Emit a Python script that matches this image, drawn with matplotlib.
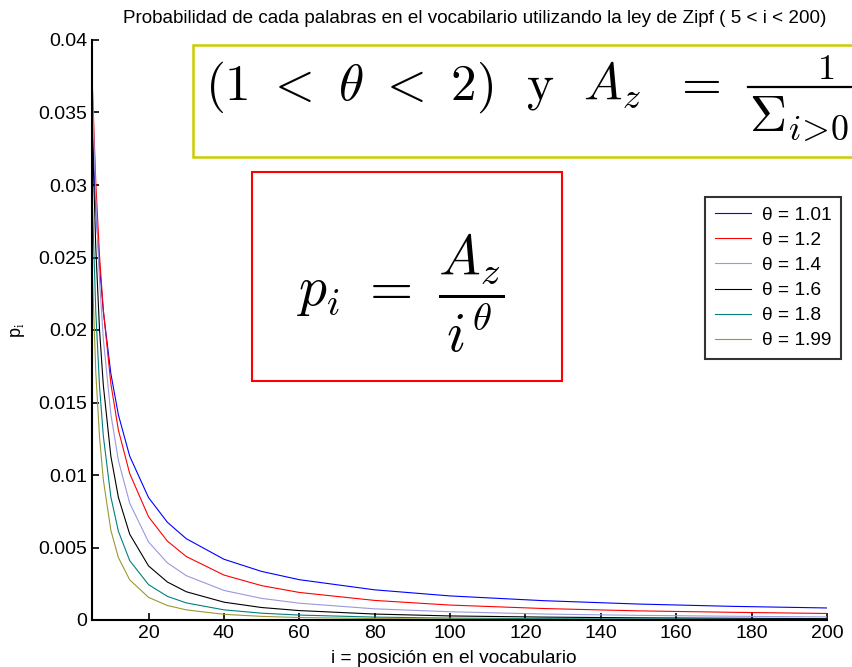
import matplotlib
matplotlib.use('Agg')
import matplotlib.pyplot as plt
from matplotlib.patches import Rectangle
from matplotlib.lines import Line2D

plt.rcParams['font.family'] = ['Liberation Sans', 'DejaVu Sans']
plt.rcParams['mathtext.fontset'] = 'cm'

i_pos = [4, 5, 6, 7, 8, 10, 12, 15, 20, 25, 30, 40, 50, 60, 80, 100, 125, 150, 175, 200]

p_101 = [0.0429, 0.0343, 0.0285, 0.0244, 0.0213, 0.0170, 0.01415, 0.0113, 0.00844, 0.00674,
         0.00561, 0.00419, 0.00335, 0.00278, 0.00208, 0.00166, 0.00133, 0.00110, 0.00094, 0.00083]
p_12 = [0.0491, 0.0376, 0.0302, 0.0251, 0.0214, 0.0163, 0.0131, 0.0101, 0.00712, 0.00544,
        0.00438, 0.00310, 0.00237, 0.00190, 0.00135, 0.00103, 0.00079, 0.00063, 0.00053, 0.00045]
p_14 = [0.0513, 0.0375, 0.0290, 0.0234, 0.0194, 0.0142, 0.0110, 0.00806, 0.00538, 0.00394,
        0.00306, 0.00204, 0.00149, 0.00116, 0.00077, 0.00057, 0.00041, 0.00032, 0.00026, 0.00021]
p_16 = [0.0491, 0.0344, 0.0257, 0.0200, 0.0162, 0.0113, 0.00846, 0.00592, 0.00373, 0.00262,
        0.00195, 0.00123, 0.00086, 0.00065, 0.00041, 0.00028, 0.00020, 0.00015, 0.00012, 0.000094]
p_18 = [0.0442, 0.0296, 0.0213, 0.0161, 0.0127, 0.00849, 0.00612, 0.00410, 0.00244, 0.00163,
        0.00118, 0.00070, 0.00047, 0.00034, 0.00020, 0.00013, 0.00009, 0.00007, 0.00005, 0.00004]
p_199 = [0.0384, 0.0247, 0.0171, 0.0126, 0.00968, 0.00619, 0.00431, 0.00277, 0.00156, 0.00100,
         0.00070, 0.00039, 0.00025, 0.00017, 0.00010, 0.00006, 0.00004, 0.00003, 0.00002, 0.000015]

series = [p_101, p_12, p_14, p_16, p_18, p_199]
labels = ['\u03b8 = 1.01', '\u03b8 = 1.2', '\u03b8 = 1.4', '\u03b8 = 1.6', '\u03b8 = 1.8', '\u03b8 = 1.99']
colors = ['#0000ff', '#ff0000', '#9999dd', '#000000', '#008080', '#999933']

xticks = [20, 40, 60, 80, 100, 120, 140, 160, 180, 200]
yticks = [0, 0.005, 0.01, 0.015, 0.02, 0.025, 0.03, 0.035, 0.04]
ytick_labels = ['0', '0.005', '0.01', '0.015', '0.02', '0.025', '0.03', '0.035', '0.04']

W, H = 852, 667
fig = plt.figure(figsize=(8.52, 6.67), dpi=100)
ax = fig.add_axes([92/W, 47/H, 735/W, 580/H])

lines = []
for s, lab, c in zip(series, labels, colors):
    l, = ax.plot(i_pos, s, '-', color=c, linewidth=0.8, label=lab)
    lines.append(l)

ax.set_xlim(5, 200)
ax.set_ylim(0, 0.04)
ax.set_xticks(xticks)
ax.set_yticks(yticks)
ax.set_yticklabels(ytick_labels)
ax.tick_params(direction='in', length=5, width=1.2, labelsize=14)
ax.spines['top'].set_visible(False)
ax.spines['right'].set_visible(False)
ax.spines['left'].set_linewidth(1.5)
ax.spines['bottom'].set_linewidth(1.5)

ax.set_title('Probabilidad de cada palabras en el vocabilario utilizando la ley de Zipf ( 5 < i < 200)',
             fontsize=13.6, pad=12, x=0.52)
ax.set_xlabel('i = posición en el vocabulario', fontsize=13.8, labelpad=6, x=0.4925)
ax.set_ylabel('p$_\\mathrm{i}$', fontsize=13, labelpad=8)

leg = fig.legend(handles=lines, loc='upper left', bbox_to_anchor=(705/W, 1 - 197/H),
                 borderaxespad=0, fontsize=13.8, frameon=True, fancybox=False, edgecolor='black',
                 handlelength=1.9, handletextpad=0.55, labelspacing=0.4, borderpad=0.5)
leg.get_frame().set_linewidth(1.5)

# recuadro amarillo (cortado por el borde derecho, como en el original)
fig.patches.append(Rectangle((193/W, 1 - 157/H), 700/W, 112/H, transform=fig.transFigure,
                             facecolor='white', edgecolor='#cccc00', linewidth=1.8))
fig.text(205/W, 1 - 100/H, r'$(1\ <\ \theta\ <\ 2)\ \ \mathrm{y}\ \ A_z\ \ =$',
         fontsize=37, ha='left', va='baseline')
fig.text(826/W, 1 - 79/H, r'$1$', fontsize=26, ha='center', va='baseline')
fig.add_artist(Line2D([748/W, 910/W], [1 - 87/H, 1 - 87/H], transform=fig.transFigure,
                      color='black', linewidth=1.6))
fig.text(749/W, 1 - 131/H, r'$\Sigma_{i\!>\!0}\ i^{-\theta}$', fontsize=37, ha='left', va='baseline')

# recuadro rojo
fig.patches.append(Rectangle((252/W, 1 - 381/H), 310/W, 209/H, transform=fig.transFigure,
                             facecolor='white', edgecolor='#ff0000', linewidth=1.5))
fig.text(401/W, 1 - 293/H, r'$p_i\ =\ \dfrac{A_z}{i^{\theta}}$',
         fontsize=40, ha='center', va='center')

fig.savefig('out.png', dpi=100)
